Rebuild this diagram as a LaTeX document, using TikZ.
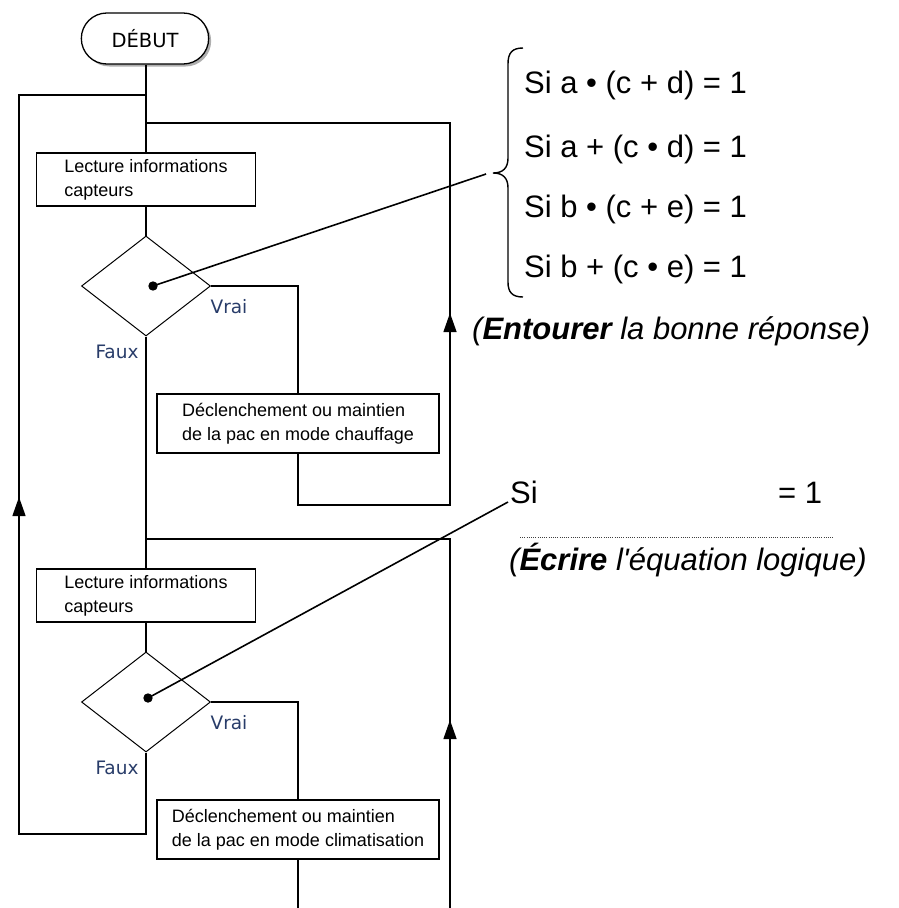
\documentclass[tikz,border=0pt]{standalone}
\usepackage{fontspec}
\setmainfont{Liberation Sans}
\newfontfamily\dejavu{DejaVu Sans}
\usetikzlibrary{
    arrows.meta,
    shapes.geometric,
    shapes.misc,
    shadows
}
\definecolor{vraifaux}{RGB}{40,60,105}
\definecolor{ombre}{RGB}{175,175,175}

\begin{document}
\begin{tikzpicture}[x=1pt, y=-1pt,
    trait/.style={line width=1.3pt},
    boite/.style={draw, trait, align=left, inner sep=0pt, font=\fontsize{18}{24}\selectfont},
    losange/.style={diamond, draw, line width=1pt, minimum width=129pt, minimum height=100pt, inner sep=0pt},
    etiq/.style={font=\dejavu\fontsize{18.5}{22}\selectfont, text=vraifaux, inner sep=0pt},
    equa/.style={font=\fontsize{31}{37}\selectfont, inner sep=0pt, anchor=base west},
    fleche/.style={-{Triangle[length=19pt, width=13pt]}, trait},
    lien/.style={line width=1.6pt}]
    \useasboundingbox (0,0) rectangle (898,908);

    % Start
    \node[rounded rectangle, draw, trait, fill=white, minimum width=134pt, minimum height=51pt,
          general shadow={fill=ombre, shadow xshift=2.5pt, shadow yshift=-2.5pt},
          font=\dejavu\fontsize{19.5}{22}\selectfont] (debut) at (145,38.5) {DÉBUT};

    % First cycle: heating
    \node[boite, minimum width=219pt, minimum height=53pt] (lect1) at (146,179.5) {Lecture informations\\capteurs};
    \node[losange] (test1) at (146,286) {};
    \node[boite, minimum width=282pt, minimum height=59pt] (decl1) at (298,423.5) {Déclenchement ou maintien\\de la pac en mode chauffage};
    \node[etiq] (vrai1) at (229,307) {Vrai};
    \node[etiq] (faux1) at (117,352) {Faux};

    % Second cycle: cooling
    \node[boite, minimum width=219pt, minimum height=53pt] (lect2) at (146,595.5) {Lecture informations\\capteurs};
    \node[losange] (test2) at (146,702) {};
    \node[boite, minimum width=282pt, minimum height=59pt] (decl2) at (298,829.5) {Déclenchement ou maintien\\de la pac en mode climatisation};
    \node[etiq] (vrai2) at (229,723) {Vrai};
    \node[etiq] (faux2) at (117,768) {Faux};

    % Corners of the loops
    \coordinate (j1) at (146,95);
    \coordinate (j2) at (146,123);
    \coordinate (j3) at (146,539);
    \coordinate (g1) at (19,95);
    \coordinate (g2) at (19,834);
    \coordinate (b2) at (146,834);
    \coordinate (r1) at (450,123);
    \coordinate (r1b) at (450,505);
    \coordinate (c1) at (298,505);
    \coordinate (r2) at (450,539);
    \coordinate (r2b) at (450,908);
    \coordinate (fin) at (298,908);

    % Main line
    \draw[trait] (debut.south -| j1) -- (lect1.north);
    \draw[trait] (lect1) -- (test1);
    \draw[trait] (test1) -- (lect2);
    \draw[trait] (lect2) -- (test2);
    \draw[trait] (test2.south) -- (b2) -- (g2) -- (g1) -- (j1);

    % Heating loop
    \draw[trait] (test1.east) -| (decl1.north);
    \draw[trait] (decl1.south) -- (c1) -- (r1b) -- (r1) -- (j2);

    % Cooling loop
    \draw[trait] (test2.east) -| (decl2.north);
    \draw[trait] (decl2.south) -- (fin);
    \draw[trait] (r2b) -- (r2) -- (j3);

    % Arrow heads on the return lines
    \coordinate (pied1) at (19,520);
    \coordinate (pointe1) at (19,497);
    \coordinate (pied2) at (450,336);
    \coordinate (pointe2) at (450,313);
    \coordinate (pied3) at (450,743);
    \coordinate (pointe3) at (450,720);
    \draw[fleche] (pied1) -- (pointe1);
    \draw[fleche] (pied2) -- (pointe2);
    \draw[fleche] (pied3) -- (pointe3);

    % Brace with the four conditions
    \draw[line width=1.4pt] (523,48) .. controls (512,48) and (508,53) .. (508,64) -- (508,158)
        .. controls (508,168) and (503,173) .. (493,173)
        .. controls (503,173) and (508,178) .. (508,188) -- (508,282)
        .. controls (508,292) and (512,297) .. (523,297);
    \node[equa] (eq1) at (524,93) {Si a • (c + d) = 1};
    \node[equa] (eq2) at (524,157) {Si a + (c • d) = 1};
    \node[equa] (eq3) at (524,217) {Si b • (c + e) = 1};
    \node[equa] (eq4) at (524,277) {Si b + (c • e) = 1};
    \node[equa, font=\fontsize{31}{37}\selectfont\itshape] (consigne1) at (472,339) {(\textbf{Entourer} la bonne réponse)};

    % Pointer to the first test
    \coordinate (dot1) at (153,286);
    \coordinate (bout1) at (486,174);
    \fill (dot1) circle (4.7pt);
    \draw[lien] (dot1) -- (bout1);

    % Equation to write
    \node[equa] (si) at (510,503) {Si};
    \node[equa] (egal) at (778,503) {= 1};
    \coordinate (pt1) at (520,537);
    \coordinate (pt2) at (833,537);
    \draw[line width=0.9pt, black!75, dash pattern=on 1pt off 1.2pt] (pt1) -- (pt2);
    \node[equa, font=\fontsize{31}{37}\selectfont\itshape] (consigne2) at (509,570) {(\textbf{Écrire} l\textquotesingle équation logique)};

    % Pointer to the second test
    \coordinate (dot2) at (148,698);
    \coordinate (bout2) at (508,502);
    \fill (dot2) circle (4.7pt);
    \draw[lien] (dot2) -- (bout2);
\end{tikzpicture}
\end{document}
